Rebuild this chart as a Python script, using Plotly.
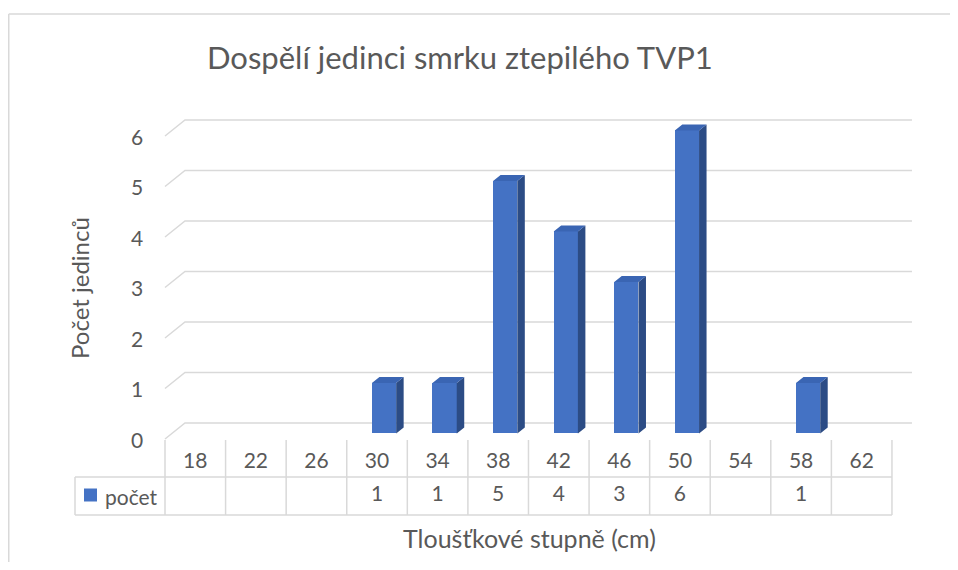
import plotly.graph_objects as go

# ---- data ----
categories = [18, 22, 26, 30, 34, 38, 42, 46, 50, 54, 58, 62]
pocet = [None, None, None, 1, 1, 5, 4, 3, 6, None, 1, None]
y_ticks = [0, 1, 2, 3, 4, 5, 6]
title_text = "Dospělí jedinci smrku ztepilého TVP1"
x_title = "Tloušťkové stupně (cm)"
y_title = "Počet jedinců"
series_name = "počet"

# ---- styling / geometry (not data) ----
FONT = "Lato"
TXT = "#595959"
GRID = "#d9d9d9"
FRONT = "#4472C4"
TOP = "#3a65b3"
SIDE = "#2c4c85"

OFF = 8                 # page body margin
W, H = 958 - 2 * OFF, 570 - 2 * OFF
PX_CAT = 60.58          # pixels per category
PX_UNIT = 50.5          # pixels per count unit
# plot area in screen pixels
L_S, R_S, T_S, B_S = 70, 915, 118, 518
ORG_X, ORG_Y = 165, 439  # screen pixel of (0,0) on the front plane

L_PX, R_PX, T_PX, B_PX = L_S - OFF, R_S - OFF, T_S - OFF, B_S - OFF

x0 = (L_S - ORG_X) / PX_CAT
x1 = (R_S - ORG_X) / PX_CAT
y0 = -(B_S - ORG_Y) / PX_UNIT
y1 = (ORG_Y - T_S) / PX_UNIT

def px_x(p):
    return (p - ORG_X) / PX_CAT

def px_y(p):
    return (ORG_Y - p) / PX_UNIT

def paper_x(p):
    return (p - L_S) / (R_S - L_S)

def paper_y(p):
    return (B_S - p) / (B_S - T_S)

DX = 20 / PX_CAT    # depth of the floor
DY = 16 / PX_UNIT
FX, FY = 0.35 * DX, 0.35 * DY    # bar front offset
BX, BY = 0.375 * DX, 0.375 * DY  # bar depth
BW = 0.4
n = len(categories)

fig = go.Figure()

# bars: front faces
bx, by = [], []
for i, v in enumerate(pocet):
    if v is not None:
        bx.append(i + 0.5 + FX)
        by.append(v)
fig.add_trace(go.Bar(x=bx, y=by, base=FY, width=BW, name=series_name,
                     marker=dict(color=FRONT, line=dict(width=0)), showlegend=False))

# bars: side and top faces
sx, sy, tx, ty = [], [], [], []
for c, v in zip(bx, by):
    l, r = c - BW / 2, c + BW / 2
    b, t = FY, FY + v
    sx += [r, r + BX, r + BX, r, r, None]
    sy += [b, b + BY, t + BY, t, b, None]
    tx += [l, l + BX, r + BX, r, l, None]
    ty += [t, t + BY, t + BY, t, t, None]
fig.add_trace(go.Scatter(x=sx, y=sy, mode="lines", fill="toself", fillcolor=SIDE,
                         line=dict(width=0, color=SIDE), hoverinfo="skip", showlegend=False))
fig.add_trace(go.Scatter(x=tx, y=ty, mode="lines", fill="toself", fillcolor=TOP,
                         line=dict(width=0, color=TOP), hoverinfo="skip", showlegend=False))

# data table grid
row_top = px_y(440)
row_mid = px_y(477)
row_bot = px_y(515)
left_edge = px_x(75)
tlx, tly = [], []
for i in range(n + 1):
    tlx += [i, i, None]
    tly += [row_top, row_bot, None]
tlx += [left_edge, n, None, left_edge, n, None, left_edge, left_edge, None]
tly += [row_mid, row_mid, None, row_bot, row_bot, None, row_mid, row_bot, None]
fig.add_trace(go.Scatter(x=tlx, y=tly, mode="lines", line=dict(color=GRID, width=1.5),
                         hoverinfo="skip", showlegend=False))

TS = 21
# table texts
fig.add_trace(go.Scatter(x=[i + 0.5 for i in range(n)], y=[px_y(463)] * n, mode="text",
                         text=[str(c) for c in categories],
                         textfont=dict(family=FONT, size=TS, color=TXT),
                         hoverinfo="skip", showlegend=False))
fig.add_trace(go.Scatter(x=[i + 0.5 for i in range(n)], y=[px_y(496)] * n, mode="text",
                         text=["" if v is None else str(v) for v in pocet],
                         textfont=dict(family=FONT, size=TS, color=TXT),
                         hoverinfo="skip", showlegend=False))
# legend key in table
fig.add_trace(go.Scatter(x=[px_x(90.5)], y=[px_y(495)], mode="markers",
                         marker=dict(symbol="square", size=13, color=FRONT),
                         hoverinfo="skip", showlegend=False))

annotations = []
annotations.append(dict(x=px_x(103), y=px_y(496), xref="x", yref="y", text=series_name,
                        showarrow=False, xanchor="left", yanchor="middle",
                        font=dict(family=FONT, size=TS, color=TXT)))
for v in y_ticks:
    annotations.append(dict(x=px_x(145), y=v, xref="x", yref="y", text=str(v),
                            showarrow=False, xanchor="right", yanchor="middle",
                            font=dict(family=FONT, size=TS, color=TXT)))
annotations.append(dict(x=px_x(79), y=px_y(288), xref="x", yref="y", text=y_title,
                        textangle=-90, showarrow=False, xanchor="center", yanchor="middle",
                        font=dict(family=FONT, size=24, color=TXT)))
annotations.append(dict(x=paper_x(529), y=paper_y(538), xref="paper", yref="paper", text=x_title,
                        showarrow=False, xanchor="center", yanchor="middle",
                        font=dict(family=FONT, size=25, color=TXT)))
annotations.append(dict(x=paper_x(460), y=paper_y(57), xref="paper", yref="paper", text=title_text,
                        showarrow=False, xanchor="center", yanchor="middle",
                        font=dict(family=FONT, size=31, color=TXT)))

# gridlines (back wall + left diagonal), drawn beneath the bars
shapes = []
for v in y_ticks:
    shapes.append(dict(type="path", xref="x", yref="y", layer="below",
                       path=f"M {0} {v} L {DX} {v + DY} L {n + DX} {v + DY}",
                       line=dict(color=GRID, width=1.5)))
# chart border
shapes += [
    dict(type="line", xref="paper", yref="paper",
         x0=paper_x(8.75), x1=paper_x(960), y0=paper_y(14), y1=paper_y(14),
         line=dict(color=GRID, width=1.5)),
    dict(type="line", xref="paper", yref="paper",
         x0=paper_x(8.75), x1=paper_x(8.75), y0=paper_y(14), y1=paper_y(575),
         line=dict(color=GRID, width=1.5)),
]

fig.update_layout(
    width=W, height=H, autosize=False,
    margin=dict(l=L_PX, r=W - R_PX, t=T_PX, b=H - B_PX, pad=0),
    paper_bgcolor="white", plot_bgcolor="rgba(0,0,0,0)",
    xaxis=dict(range=[x0, x1], visible=False, fixedrange=True),
    yaxis=dict(range=[y0, y1], visible=False, fixedrange=True),
    annotations=annotations, shapes=shapes, showlegend=False,
    bargap=0,
)

fig.write_html("out.html")
